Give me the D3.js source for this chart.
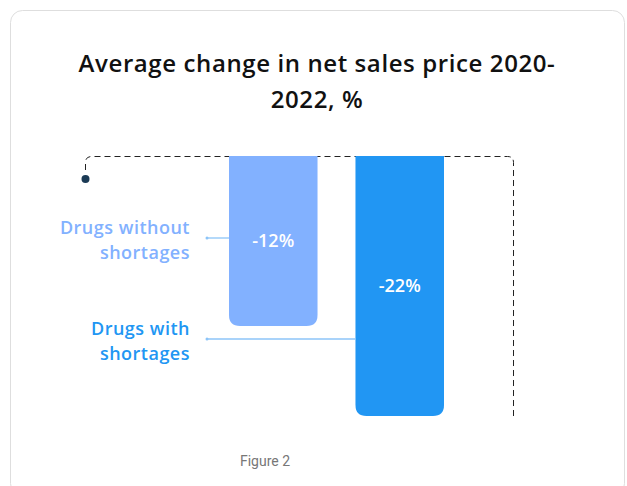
<!DOCTYPE html>
<html>
<head>
<meta charset="utf-8">
<script src="https://cdn.jsdelivr.net/npm/d3@7"></script>
<style>
  body { margin: 0; background: #fff; }
  svg { display: block; }
</style>
</head>
<body>
<div id="chart"></div>
<script>
// data
var categories = ["Drugs without shortages", "Drugs with shortages"];
var labelLines = [["Drugs without", "shortages"], ["Drugs with", "shortages"]];
var values = [-12, -22];
var colors = ["#82b1ff", "#2196f3"];

var width = 627, height = 486;
var plotTop = 156, plotBottom = 416;
var font = "'Open Sans', sans-serif";

var svg = d3.select("#chart").append("svg")
    .attr("width", width)
    .attr("height", height);

// card
svg.append("rect")
    .attr("x", 10.5).attr("y", 10.5)
    .attr("width", 614).attr("height", 485)
    .attr("rx", 12)
    .style("fill", "#fff")
    .style("stroke", "#dedede");

// title
var title = svg.append("text")
    .attr("text-anchor", "middle")
    .style("font-family", font)
    .style("font-weight", 600)
    .style("font-size", "24px")
    .style("letter-spacing", "0.6px")
    .style("fill", "#111");
title.append("tspan").attr("x", 317).attr("y", 72).text("Average change in net sales price 2020-");
title.append("tspan").attr("x", 317).attr("y", 108).text("2022, %");

// scales
var x = d3.scaleBand()
    .domain(categories)
    .range([229, 444])
    .paddingInner(0.3)
    .paddingOuter(0);

var y = d3.scaleLinear()
    .domain([0, -22])
    .range([218, plotBottom]);

// dashed frame
var fx0 = 85.5, fx1 = 513.5, fy = plotTop + 0.5;
var frame = d3.path();
frame.moveTo(fx0, 170);
frame.lineTo(fx0, fy + 6);
frame.quadraticCurveTo(fx0, fy, fx0 + 6, fy);
frame.lineTo(fx1 - 6, fy);
frame.quadraticCurveTo(fx1, fy, fx1, fy + 6);
frame.lineTo(fx1, plotBottom);
svg.append("path")
    .attr("d", frame.toString())
    .style("fill", "none")
    .style("stroke", "#222")
    .style("stroke-width", 1)
    .style("stroke-dasharray", "6,4");

svg.append("circle")
    .attr("cx", 85.5).attr("cy", 179).attr("r", 4)
    .style("fill", "#1b3a55");

// bars: flat top, rounded bottom
function barPath(x0, w, y0, y1, r) {
  var p = d3.path();
  p.moveTo(x0, y0);
  p.lineTo(x0 + w, y0);
  p.lineTo(x0 + w, y1 - r);
  p.quadraticCurveTo(x0 + w, y1, x0 + w - r, y1);
  p.lineTo(x0 + r, y1);
  p.quadraticCurveTo(x0, y1, x0, y1 - r);
  p.closePath();
  return p.toString();
}

var data = categories.map(function(c, i) {
  return { cat: c, value: values[i], color: colors[i], lines: labelLines[i] };
});

svg.selectAll(".bar")
    .data(data)
    .enter()
    .append("path")
    .attr("class", "bar")
    .attr("d", function(d) { return barPath(x(d.cat), x.bandwidth(), plotTop, y(d.value), 11); })
    .style("fill", function(d) { return d.color; });

svg.selectAll(".val")
    .data(data)
    .enter()
    .append("text")
    .attr("class", "val")
    .attr("x", function(d) { return x(d.cat) + x.bandwidth() / 2; })
    .attr("y", function(d) { return (plotTop + y(d.value)) / 2 + 6; })
    .attr("text-anchor", "middle")
    .style("font-family", font)
    .style("font-weight", 600)
    .style("font-size", "18px")
    .style("fill", "#fff")
    .text(function(d) { return d.value + "%"; });

// leader lines and category labels
var labelY = [238, 339];

svg.selectAll(".leader")
    .data(data)
    .enter()
    .append("line")
    .attr("class", "leader")
    .attr("x1", 207)
    .attr("x2", function(d) { return x(d.cat); })
    .attr("y1", function(d, i) { return labelY[i]; })
    .attr("y2", function(d, i) { return labelY[i]; })
    .style("stroke", "#8cc4f8")
    .style("stroke-width", 1.3);

svg.selectAll(".leaderdot")
    .data(data)
    .enter()
    .append("circle")
    .attr("cx", 207)
    .attr("cy", function(d, i) { return labelY[i]; })
    .attr("r", 1.5)
    .style("fill", "#8cc4f8");

var lbl = svg.selectAll(".cat")
    .data(data)
    .enter()
    .append("text")
    .attr("class", "cat")
    .attr("text-anchor", "end")
    .style("font-family", font)
    .style("font-weight", 600)
    .style("font-size", "18px")
    .style("letter-spacing", "0.5px")
    .style("fill", function(d) { return d.color; });

lbl.each(function(d, i) {
  var t = d3.select(this);
  d.lines.forEach(function(line, j) {
    t.append("tspan")
      .attr("x", 190)
      .attr("y", labelY[i] - 4 + j * 25)
      .text(line);
  });
});

// footer
svg.append("text")
    .attr("x", 265).attr("y", 466)
    .attr("text-anchor", "middle")
    .style("font-family", "Roboto, sans-serif")
    .style("font-size", "14px")
    .style("fill", "#777")
    .text("Figure 2");
</script>
</body>
</html>
